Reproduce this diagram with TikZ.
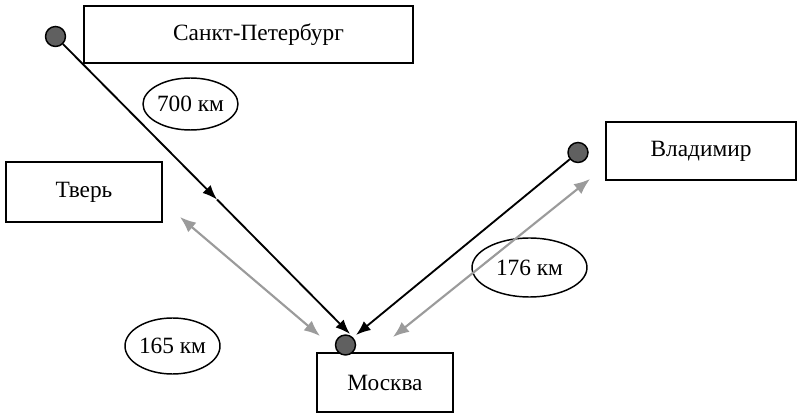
\documentclass[tikz,border=0pt]{standalone}
\usepackage{fontspec}
\setmainfont{Liberation Serif}
\usetikzlibrary{shapes.geometric,arrows.meta}

\definecolor{dotgray}{RGB}{96,96,96}
\definecolor{arrgray}{RGB}{155,155,155}

\tikzset{
  town/.style={draw, line width=1.2pt, inner sep=0pt, font=\fontsize{17.5}{20}\selectfont},
  dist/.style={ellipse, draw, line width=1.1pt, inner sep=0pt, font=\fontsize{17.5}{20}\selectfont},
  dot/.style={circle, draw, line width=1.1pt, fill=dotgray, minimum size=15pt, inner sep=0pt},
  road/.style={line width=1.4pt, -{Latex[length=11pt,width=8.5pt]}},
  link/.style={arrgray, line width=1.6pt, {Latex[length=12pt,width=9.5pt]}-{Latex[length=12pt,width=9.5pt]}}
}

\begin{document}
\begin{tikzpicture}[x=0.75pt,y=0.75pt,yscale=-1,xscale=1]
\useasboundingbox (0,0) rectangle (797,413);

% Town boxes
\node[town, minimum width=246.75pt, minimum height=42.75pt] (spb) at (248.5,34.5) {\hspace{15pt}Санкт-Петербург};
\node[town, minimum width=117pt, minimum height=45pt] (tver) at (84,192) {Тверь\hspace{6pt}};
\node[town, minimum width=102pt, minimum height=44.25pt] (msk) at (385,382.5) {Москва};
\node[town, minimum width=142.5pt, minimum height=43.5pt] (vlad) at (701,151) {Владимир};

% Dots
\node[dot] (spbdot) at (55.5,36.5) {};
\node[dot] (vladdot) at (578,152.5) {};
\node[dot] (mskdot) at (345.5,345) {};

% Distance labels
\node[dist, minimum width=71.25pt, minimum height=39pt] (km700) at (190.5,104) {700 км};
\node[dist, minimum width=71.25pt, minimum height=42pt] (km165) at (172.5,346) {165 км};
\node[dist, minimum width=86.25pt, minimum height=44.25pt] (km176) at (529.5,267.5) {176 км};

% Arrow ends
\coordinate (spbmid) at (217,199.5);
\coordinate (spbtip) at (350,334);
\coordinate (vladtip) at (356,335);
\coordinate (tverend) at (180,217);
\coordinate (msklend) at (320,336);
\coordinate (mskrend) at (393,337);
\coordinate (vladend) at (590,179);

%Straight Lines
\draw[road] (spbdot) -- (spbmid);
\draw[road] (spbmid) -- (spbtip);
\draw[road] (vladdot) -- (vladtip);
\draw[link] (tverend) -- (msklend);
\draw[link] (mskrend) -- (vladend);

\end{tikzpicture}
\end{document}
